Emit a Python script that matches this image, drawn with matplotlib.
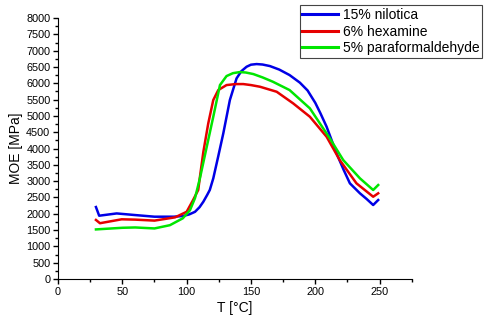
import matplotlib
matplotlib.use("Agg")
import matplotlib.pyplot as plt
from matplotlib.ticker import MultipleLocator

plt.rcParams['font.family'] = ['Liberation Sans', 'DejaVu Sans']

t_blue = [29.5, 32, 45.6, 60, 75, 90, 97, 102, 106.5, 110, 113, 116, 118, 120.7, 124.5, 128.5, 133.6,
          138.8, 142.5, 146.6, 150, 154.4, 159, 164.7, 172, 180, 188, 194, 200, 204, 208.8, 216.5,
          222, 226.9, 234.7, 240, 245, 248.9]
m_blue = [2206, 1940, 2010, 1960, 1910, 1910, 1930, 1980, 2060, 2200, 2370, 2580, 2730, 3085, 3750,
          4466, 5486, 6150, 6370, 6507, 6570, 6589, 6575, 6528, 6420, 6252, 6020, 5780, 5400, 5080,
          4668, 3852, 3350, 2933, 2627, 2450, 2268, 2421]

t_red = [29.5, 32.6, 49.5, 60, 75, 91, 100, 105, 109, 110, 113, 116.8, 120.7, 124.6, 131, 138, 144, 150,
         157, 170, 182.8, 195.8, 208.8, 219, 232, 240, 245, 248.9]
m_red = [1810, 1710, 1830, 1820, 1790, 1890, 2060, 2420, 2730, 3034, 3900, 4770, 5486, 5792, 5945, 5975,
         5976, 5945, 5894, 5740, 5384, 4974, 4361, 3647, 2933, 2680, 2522, 2627]

t_green = [29.5, 50, 60, 75, 87, 97, 102.6, 106.5, 110.3, 115.5, 120.7, 125.9, 131, 136, 141.4, 146,
           151.8, 159, 167, 180, 195.8, 211.3, 221.7, 234.7, 245, 248.9]
m_green = [1520, 1570, 1580, 1550, 1650, 1860, 2110, 2480, 3085, 4030, 4974, 5945, 6221, 6310, 6344,
           6330, 6283, 6180, 6048, 5792, 5231, 4312, 3647, 3086, 2728, 2881]

labels = ['15% nilotica', '6% hexamine', '5% paraformaldehyde']
colors = ['#0000e6', '#e60000', '#00e600']

fig = plt.figure(figsize=(4.85, 3.28), dpi=100)
ax = fig.add_axes([0.1196, 0.1494, 0.7294, 0.7956])

lines = []
for t, m, c, lab in zip([t_blue, t_red, t_green], [m_blue, m_red, m_green], colors, labels):
    l, = ax.plot(t, m, color=c, lw=1.8, label=lab, solid_joinstyle='round')
    lines.append(l)

ax.set_xlim(0, 275)
ax.set_ylim(0, 8000)
ax.xaxis.set_major_locator(MultipleLocator(50))
ax.xaxis.set_minor_locator(MultipleLocator(25))
ax.yaxis.set_major_locator(MultipleLocator(500))
ax.yaxis.set_minor_locator(MultipleLocator(250))
ax.set_xticks([0, 50, 100, 150, 200, 250])
ax.spines['top'].set_visible(False)
ax.spines['right'].set_visible(False)
ax.tick_params(axis='both', which='major', direction='out', length=3.5, width=1, labelsize=7.8, pad=2)
ax.tick_params(axis='both', which='minor', direction='out', length=2, width=1)
ax.set_xlabel('T [°C]', fontsize=10, labelpad=3)
ax.set_ylabel('MOE [MPa]', fontsize=10, labelpad=2)

leg = fig.legend(handles=lines, labels=labels, loc='upper right',
                 bbox_to_anchor=(482/485, 1 - 5/328), fontsize=10, frameon=True,
                 fancybox=False, edgecolor='#444444', framealpha=1,
                 handlelength=2.6, handletextpad=0.3, labelspacing=0.2,
                 borderpad=0.2, borderaxespad=0)
leg.get_frame().set_linewidth(0.8)
for h in leg.legend_handles:
    h.set_linewidth(2.2)

fig.savefig('out.png', dpi=100)
